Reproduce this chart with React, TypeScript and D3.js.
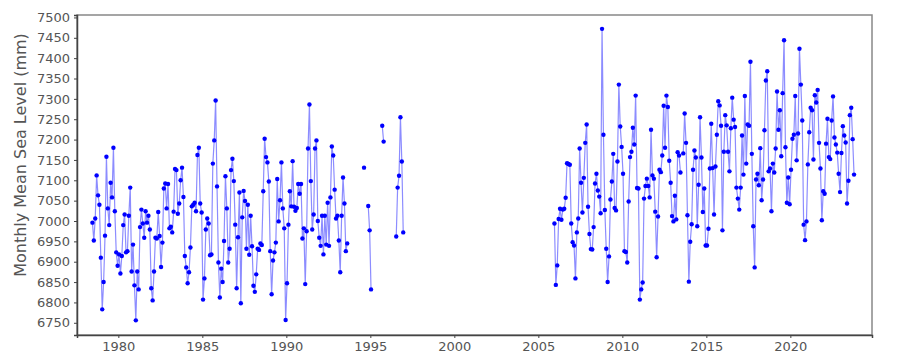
import { useEffect, useRef } from 'react'
import * as d3 from 'd3'

// Monthly mean sea level (mm), first record starts June 1978 (nulls = missing months)
const start1 = 1978 + 5.5 / 12
const level1 = [
	6996, 6952, 7006, 7112, 7063, 7040, 6910, 6783, 6850, 6964,
	7158, 7031, 6990, 7094, 7058, 7180, 7024, 6923, 6890, 6918,
	6871, 6914, 6990, 7016, 6923, 6926, 7013, 7082, 6876, 6942,
	6842, 6756, 6876, 6832, 6985, 7028, 6994, 6959, 7024, 6996,
	7013, 6979, 6835, 6805, 6876, 6959, 6957, 7022, 6963, 6887,
	6947, 7080, 7092, 7031, 7091, 6982, 6986, 6972, 7023, 7128,
	7125, 7018, 7043, 7100, 7131, 7059, 6914, 6886, 6847, 6874,
	6935, 7036, 7040, 7045, 7024, 7162, 7180, 7043,
	7021, 6807, 6859, 6979, 7006, 6994, 6916, 6918, 7141, 7198,
	7296, 7085, 6898, 6812, 6883, 6850, 6951, 7110, 7031, 6898,
	6932, 7125, 7153, 7098, 6991, 6835, 6960, 7070, 6798, 7009,
	7074, 7049, 6932, 7040, 6917, 7013, 6938, 6841, 6826, 6869,
	6932, 6929, 6945, 6941, 7073, 7202, 7157, 7144, 7097, 6926,
	6820, 6903, 6923, 6947, 7103, 6999, 7051, 7144, 7031, 6982,
	6757, 6847, 6991, 7073, 7036, 7147, 7035, 7025, 7032, 7091,
	7067, 7091, 6957, 6982, 6845, 6975, 7178, 7286, 7098,
	6979, 7016, 7178, 7198, 7000, 6959, 6939, 7013, 6918, 7013,
	6942, 7045, 6939, 7058, 7183, 7161, 7077, 7006, 7013, 6952,
	6874, 7013, 7107, 7043, 6926, 6945,
	null, null, null, null, null, null, null, null, null, null, null,
	7131, null, null, 7037, 6977, 6832,
	null, null, null, null, null, null, null,
	7234, 7195,
	null, null, null, null, null, null, null, null,
	6962, 7082, 7111, 7255, 7146, 6972,
]

// second record starts December 2005
const start2 = 2005 + 11.5 / 12
const level2 = [
	6994, 6843, 6891, 7005, 7030, 7003, 7028, 7030, 7057, 7142,
	7140, 7138, 6994, 6948, 6940, 6859, 6972, 7006, 7178, 7094,
	7021, 7106, 7192, 7237, 7035, 6968, 6931, 6930, 6985, 7092,
	7116, 7075, 7060, 7019, 7472, 7212, 7027, 6932, 6850, 6913,
	7053, 7097, 7165, 7032, 7026, 7146, 7335, 7232, 7182, 7116,
	6926, 6924, 6898, 7048, 7157, 7170, 7229, 7188, 7308,
	7081, 7080, 6807, 6832, 6849, 7055, 7086, 7104, 7086, 7058,
	7224, 7112, 7104, 7023, 6911, 7011, 7126, 7120, 7161, 7283,
	7180, 7308, 7280, 7148, 7094, 7012, 6999, 7062, 7004, 7169,
	7161, 7119, null, 7166, 7264, 7192, 7014, 6851, 6949, 6992,
	7126, 7173, 7156, 6987, 7089, 7255, 7156, 7022, 7080, 6940,
	6940, 6981, 7129, 7239, 7130, 7016, 7134, 7212, 7294, 7284, 7234,
	6977, 7170, 7260, 7235, 7170, 7122, 7228, 7303, 7249, 7231,
	7082, 7055, 7028, 7082, 7210, 7114, 7307, 7141, 7237, 7234,
	7391, 7165, 6987, 6886, 7102, 7116, 7088, 7179, 7051, 7102,
	7223, 7345, 7368, 7122, 7129, 7024, 7141, 7119, 7178, 7318,
	7224, 7272, 7159, 7314, 7444, 7181, 7045, 7107, 7041, 7126,
	7202, 7212, 7307, 7149, 7215, 7423, 7335, 7247, 6991, 6953,
	6999, 7139, 7218, 7278, 7272, 7151, 7309, 7291, 7322, 7192,
	7129, 7002, 7073, 7067, 7190, 7251, 7157, 7152, 7247, 7306,
	7205, 7188, 7168, 7116, 7071, 7167, 7233, 7210, 7193, 7043,
	7099, 7260, 7278, 7201, 7114,
]

const yearTicks = [1980, 1985, 1990, 1995, 2000, 2005, 2010, 2015, 2020]
const levelTicks = [6750, 6800, 6850, 6900, 6950, 7000, 7050, 7100, 7150, 7200, 7250, 7300, 7350, 7400, 7450, 7500]

const SeaLevelChart = () => {
	const svgRef = useRef(null)

	useEffect(() => {
		const W = 900
		const H = 360
		const margin = { top: 15, right: 28, bottom: 25, left: 77 }
		const width = W - margin.left - margin.right
		const height = H - margin.top - margin.bottom

		const root = d3.select(svgRef.current)
		root.selectAll('*').remove()

		const svg = root
			.append('g')
			.attr('transform', `translate(${margin.left},${margin.top})`)

		const x = d3.scaleLinear().domain([1977.54, 2024.86]).range([0, width])
		const y = d3.scaleLinear().domain([6720, 7506]).range([height, 0])

		const toPoints = (start, values) =>
			values.map((v, i) => ({ t: start + i / 12, v }))

		const series = [toPoints(start1, level1), toPoints(start2, level2)]

		const line = d3
			.line()
			.defined((d) => d.v !== null)
			.x((d) => x(d.t))
			.y((d) => y(d.v))

		// frame: top/right lighter
		svg
			.append('rect')
			.attr('width', width)
			.attr('height', height)
			.attr('fill', 'none')
			.attr('stroke', '#888')
			.attr('stroke-width', 1.5)

		series.forEach((pts) => {
			svg
				.append('path')
				.datum(pts)
				.attr('fill', 'none')
				.attr('stroke', 'blue')
				.attr('stroke-opacity', 0.45)
				.attr('stroke-width', 1.2)
				.attr('d', line)

			svg
				.selectAll(null)
				.data(pts.filter((d) => d.v !== null))
				.enter()
				.append('circle')
				.attr('cx', (d) => x(d.t))
				.attr('cy', (d) => y(d.v))
				.attr('r', 2.2)
				.attr('fill', 'blue')
		})

		const styleAxis = (g) => {
			g.select('.domain').attr('stroke', '#444').attr('stroke-width', 1.5)
			g.selectAll('.tick line').attr('stroke', '#444')
			g.selectAll('.tick text')
				.attr('fill', '#555')
				.style('font-family', 'DejaVu Sans, sans-serif')
				.style('font-size', '13px')
		}

		// X axis
		svg
			.append('g')
			.attr('transform', `translate(0,${height})`)
			.call(
				d3.axisBottom(x).tickValues(yearTicks).tickFormat(d3.format('d')).tickSizeOuter(0).tickSize(3).tickPadding(4)
			)
			.call(styleAxis)

		// Y axis
		svg
			.append('g')
			.call(
				d3.axisLeft(y).tickValues(levelTicks).tickFormat(d3.format('d')).tickSizeOuter(0).tickSize(3).tickPadding(4)
			)
			.call(styleAxis)

		// Y label
		svg
			.append('text')
			.attr('transform', 'rotate(-90)')
			.attr('x', -height / 2 + 20)
			.attr('y', -margin.left + 26)
			.style('text-anchor', 'middle')
			.style('font-family', 'DejaVu Sans, sans-serif')
			.style('font-size', '16px')
			.style('fill', '#555')
			.text('Monthly Mean Sea Level (mm)')
	}, [])

	return (
		<svg
			ref={svgRef}
			width={900}
			height={360}
			style={{ position: 'absolute', left: 0, top: 0, background: 'white' }}
		></svg>
	)
}

export default function App() {
	return <SeaLevelChart />
}
